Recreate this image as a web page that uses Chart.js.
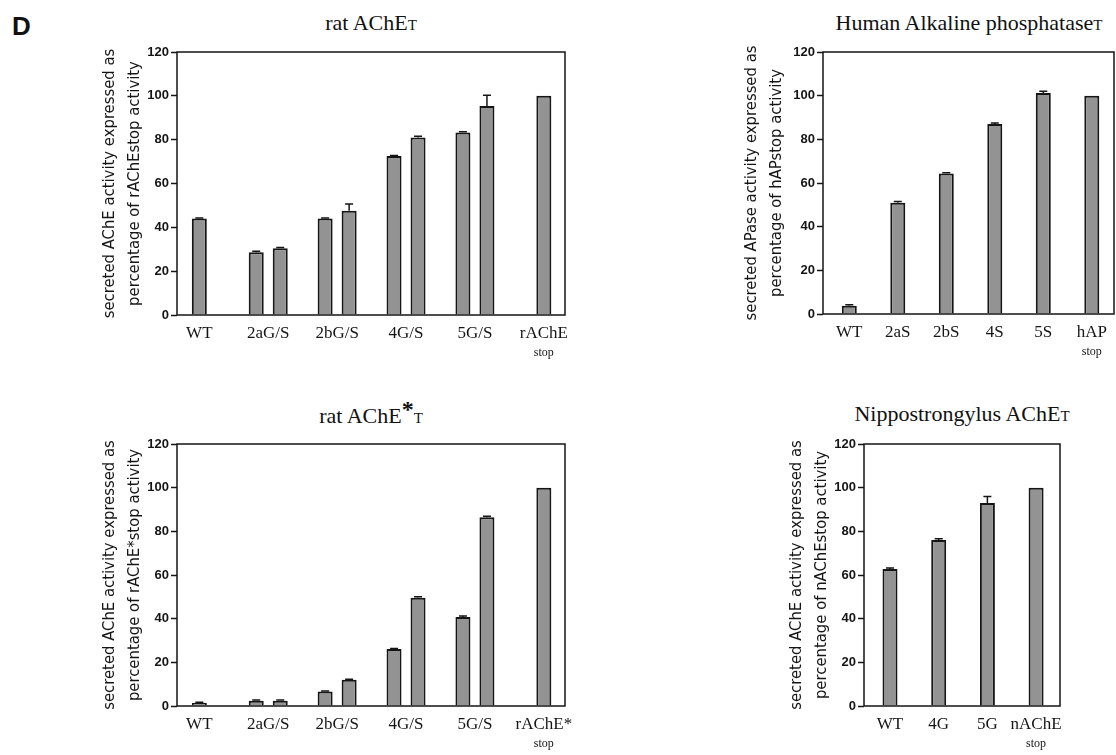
<!DOCTYPE html>
<html lang="en">
<head>
  <meta charset="UTF-8">
  <title>Secreted activity of mutants, panel D</title>
  <style>
    body { margin: 0; background: #fff; }
    #fig { position: relative; width: 1116px; height: 755px; overflow: hidden; background: #fff; }
    #fig canvas { position: absolute; }
    .title {
      position: absolute;
      font-family: "Liberation Serif", "Times New Roman", serif;
      font-size: 22px;
      line-height: 1;
      color: #111;
      white-space: nowrap;
      transform: translateX(-50%);
    }
    .title small { font-size: 15px; }
    .title b { font-size: 24px; position: relative; top: -6px; }
    .letter {
      position: absolute; left: 12px; top: 13px;
      font: bold 26px/1 "Liberation Sans", Arial, sans-serif;
      color: #111;
    }
  </style>
</head>
<body>
  <div id="fig">
    <div class="letter">D</div>
    <div class="title" style="left:371px;top:12px">rat AChE<small>T</small></div>
    <div class="title" style="left:969px;top:12px">Human Alkaline phosphatase<small>T</small></div>
    <div class="title" style="left:371px;top:403px">rat AChE<b>*</b><small>T</small></div>
    <div class="title" style="left:962px;top:403px">Nippostrongylus AChE<small>T</small></div>
    <canvas id="ratT" width="520" height="330" style="left:70px;top:40px"></canvas>
    <canvas id="hap" width="403" height="329" style="left:713px;top:40px"></canvas>
    <canvas id="ratStar" width="520" height="331" style="left:70px;top:430px"></canvas>
    <canvas id="nippo" width="320" height="331" style="left:754px;top:430px"></canvas>
  </div>

  <script src="https://cdn.jsdelivr.net/npm/chart.js"></script>
  <script>
    // rat AChE T (top left)
    const RAT_LABELS = ['WT', '2aG/S', '2bG/S', '4G/S', '5G/S', 'rAChE'];
    const RAT_SUB = ['', '', '', '', '', 'stop'];
    const RAT_T_G = [44, 28.6, 44, 72.5, 83.3, 100];
    const RAT_T_S = [null, 30.4, 47.6, 81, 95.4, null];
    const RAT_T_G_ERR = [0.3, 0.5, 0.3, 0.3, 0.3, 0];
    const RAT_T_S_ERR = [null, 0.4, 3, 0.6, 4.9, null];

    // human alkaline phosphatase (top right)
    const HAP_LABELS = ['WT', '2aS', '2bS', '4S', '5S', 'hAP'];
    const HAP_SUB = ['', '', '', '', '', 'stop'];
    const HAP_VALUES = [3.8, 51, 64.3, 87, 101.2, 100];
    const HAP_ERR = [0.4, 0.5, 0.4, 0.5, 0.8, 0];

    // rat AChE* T (bottom left)
    const RATSTAR_LABELS = ['WT', '2aG/S', '2bG/S', '4G/S', '5G/S', 'rAChE*'];
    const RATSTAR_SUB = ['', '', '', '', '', 'stop'];
    const RATSTAR_G = [1.5, 2.4, 6.6, 26.1, 40.8, 100];
    const RATSTAR_S = [null, 2.4, 12, 49.6, 86.4, null];
    const RATSTAR_G_ERR = [0.2, 0.3, 0.3, 0.2, 0.4, 0];
    const RATSTAR_S_ERR = [null, 0.3, 0.3, 0.4, 0.5, null];

    // Nippostrongylus AChE T (bottom right)
    const NIPPO_LABELS = ['WT', '4G', '5G', 'nAChE'];
    const NIPPO_SUB = ['', '', '', 'stop'];
    const NIPPO_VALUES = [62.7, 76, 93, 100];
    const NIPPO_ERR = [0.5, 0.6, 2.9, 0];

    const INK = '#151515';
    const BAR_FILL = '#939393';
    const SERIF = '"Liberation Serif", "Times New Roman", serif';
    const SANS = '"Liberation Sans", Arial, sans-serif';
    const COND = '"DejaVu Sans Condensed", "Liberation Sans", sans-serif';

    Chart.defaults.animation = false;
    Chart.defaults.plugins.legend.display = false;
    Chart.defaults.plugins.tooltip.enabled = false;

    // error bars: stem from the bar top up to value + error, with a small cap
    const errorBars = {
      id: 'errorBars',
      afterDatasetsDraw(chart) {
        const ctx = chart.ctx;
        const y = chart.scales.y;
        chart.data.datasets.forEach((ds, di) => {
          if (!ds.errors) return;
          chart.getDatasetMeta(di).data.forEach((bar, i) => {
            const v = ds.data[i], e = ds.errors[i];
            if (v == null || !e) return;
            const top = y.getPixelForValue(v + e);
            ctx.save();
            ctx.strokeStyle = INK;
            ctx.lineWidth = 1.5;
            ctx.beginPath();
            ctx.moveTo(bar.x, bar.y);
            ctx.lineTo(bar.x, top);
            ctx.moveTo(bar.x - 4, top);
            ctx.lineTo(bar.x + 4, top);
            ctx.stroke();
            ctx.restore();
          });
        });
      }
    };

    // closed box around the plot area
    const frame = {
      id: 'frame',
      afterDraw(chart) {
        const { ctx, chartArea: a } = chart;
        ctx.save();
        ctx.strokeStyle = INK;
        ctx.lineWidth = 1.5;
        ctx.strokeRect(a.left, a.top, a.right - a.left, a.bottom - a.top);
        ctx.restore();
      }
    };

    // small second line under a category name ("stop")
    const subLabels = {
      id: 'subLabels',
      afterDraw(chart, args, opts) {
        const ctx = chart.ctx;
        const x = chart.scales.x;
        ctx.save();
        ctx.font = '12px ' + SERIF;
        ctx.fillStyle = INK;
        ctx.textAlign = 'center';
        ctx.textBaseline = 'middle';
        (opts.text || []).forEach((t, i) => {
          if (t) ctx.fillText(t, x.getPixelForValue(i), chart.chartArea.bottom + opts.offset);
        });
        ctx.restore();
      }
    };

    function barSet(values, errors) {
      return {
        data: values,
        errors: errors,
        backgroundColor: BAR_FILL,
        borderColor: INK,
        borderWidth: 2,
        barPercentage: 1,
        maxBarThickness: 15,
        skipNull: true
      };
    }

    function panel(id, p) {
      return new Chart(document.getElementById(id), {
        type: 'bar',
        data: {
          labels: p.labels.map((_, i) => i),
          datasets: p.sets.map(s => Object.assign(s, { categoryPercentage: p.catPct }))
        },
        plugins: [errorBars, frame, subLabels],
        options: {
          responsive: false,
          layout: { padding: p.padding },
          plugins: { subLabels: { text: p.sub, offset: 38 } },
          scales: {
            x: {
              type: 'linear',
              bounds: 'data',
              min: p.xMin,
              max: p.xMax,
              offset: false,
              grid: { display: false, drawTicks: false },
              border: { display: false },
              // one tick per category index
              afterBuildTicks(scale) { scale.ticks = p.labels.map((_, i) => ({ value: i })); },
              ticks: {
                autoSkip: false,
                maxRotation: 0,
                padding: 8.5,
                color: INK,
                font: { family: SERIF, size: 17 },
                callback: v => p.labels[v] ?? ''
              },
              afterFit(scale) { scale.height = 55; }
            },
            y: {
              min: 0,
              max: 120,
              grid: { drawOnChartArea: false, tickLength: 6, tickColor: INK, tickWidth: 1.5 },
              border: { display: false },
              ticks: {
                stepSize: 20,
                padding: 2,
                color: INK,
                font: { family: SANS, size: 13, weight: 'bold' }
              },
              title: {
                display: true,
                text: p.yTitle,
                color: INK,
                font: { family: COND, size: 16.5, lineHeight: 25 / 16.5 },
                padding: { top: p.titlePad, bottom: 0 }
              },
              afterFit(scale) { scale.width = p.yWidth; }
            }
          }
        }
      });
    }

    panel('ratT', {
      labels: RAT_LABELS, sub: RAT_SUB,
      sets: [barSet(RAT_T_G, RAT_T_G_ERR), barSet(RAT_T_S, RAT_T_S_ERR)],
      catPct: 0.697, xMin: -0.324, xMax: 5.307,
      padding: { top: 12, right: 25, left: 0, bottom: 0 },
      yWidth: 107, titlePad: 27.5,
      yTitle: ['secreted AChE activity expressed as', 'percentage of rAChEstop activity']
    });

    panel('hap', {
      labels: HAP_LABELS, sub: HAP_SUB,
      sets: [barSet(HAP_VALUES, HAP_ERR)],
      catPct: 0.7, xMin: -0.542, xMax: 5.458,
      padding: { top: 12, right: 2, left: 0, bottom: 0 },
      yWidth: 110, titlePad: 26.2,
      yTitle: ['secreted APase activity expressed as', 'percentage of hAPstop activity']
    });

    panel('ratStar', {
      labels: RATSTAR_LABELS, sub: RATSTAR_SUB,
      sets: [barSet(RATSTAR_G, RATSTAR_G_ERR), barSet(RATSTAR_S, RATSTAR_S_ERR)],
      catPct: 0.697, xMin: -0.324, xMax: 5.307,
      padding: { top: 14, right: 25, left: 0, bottom: 0 },
      yWidth: 107, titlePad: 27.5,
      yTitle: ['secreted AChE activity expressed as', 'percentage of rAChE*stop activity']
    });

    panel('nippo', {
      labels: NIPPO_LABELS, sub: NIPPO_SUB,
      sets: [barSet(NIPPO_VALUES, NIPPO_ERR)],
      catPct: 0.7, xMin: -0.534, xMax: 3.491,
      padding: { top: 14, right: 14, left: 0, bottom: 0 },
      yWidth: 110, titlePad: 30.2,
      yTitle: ['secreted AChE activity expressed as', 'percentage of nAChEstop activity']
    });
  </script>
</body>
</html>
